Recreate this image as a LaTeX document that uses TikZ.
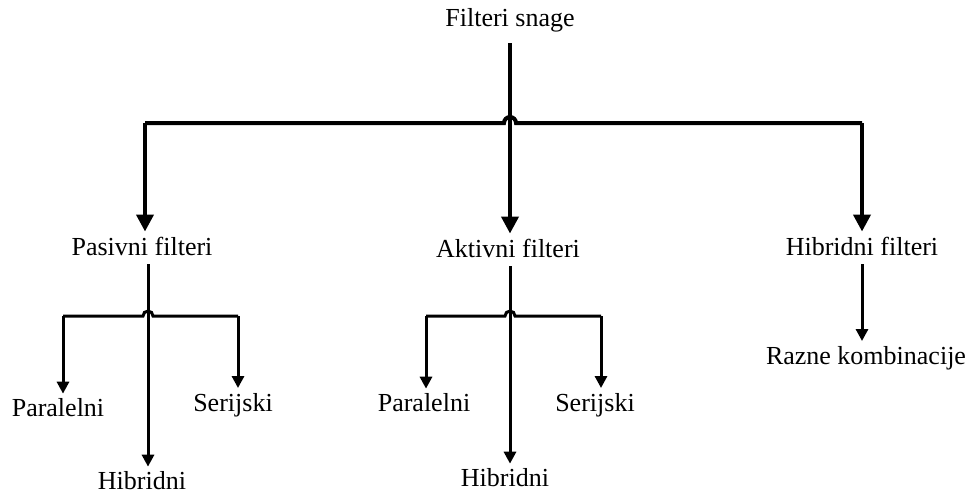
\documentclass[tikz,border=0pt]{standalone}
\usepackage{fontspec}
\setmainfont{Liberation Serif}
\usetikzlibrary{arrows.meta,positioning}

\begin{document}
\begin{tikzpicture}[x=1pt, y=-1pt, font=\fontsize{26}{30}\selectfont,
    every node/.style={inner sep=5pt},
    big/.style={line width=4pt, -{Triangle[length=17pt,width=17pt]}},
    small/.style={line width=3pt, -{Triangle[length=12pt,width=12pt]}},
    bar/.style={line width=4pt},
    thinbar/.style={line width=3pt}]
  \useasboundingbox (0,0) rectangle (968,496);

  % top and first level
  \node (FS) at (510,20) {Filteri snage};
  \node (PF) at (142,246) {Pasivni filteri};
  \node (AF) at (508,248) {Aktivni filteri};
  \node (HF) at (862,246) {Hibridni filteri};

  % second level
  \node (PP) at (58,408) {Paralelni};
  \node (PS) at (233,405) {Serijski};
  \node (PH) at (142,481) {Hibridni};
  \node (AP) at (424,403) {Paralelni};
  \node (AS) at (595,405) {Serijski};
  \node (AH) at (505,478) {Hibridni};
  \node (RK) at (866,358) {Razne kombinacije};

  % bar points
  \coordinate (b1) at (145,123);
  \coordinate (b2) at (510,123);
  \coordinate (b3) at (862,123);
  \coordinate (p1) at (63,316);
  \coordinate (p2) at (148,316);
  \coordinate (p3) at (238,316);
  \coordinate (a1) at (426,316);
  \coordinate (a2) at (510,316);
  \coordinate (a3) at (601,316);

  % from Filteri snage to all kinds
  \draw[bar] (b1) -- ([xshift=-6pt]b2) arc[start angle=180, end angle=0, radius=6pt] -- (b3);
  \draw[big, shorten <=6pt] (FS.south -| b2) -- (AF.north -| b2);
  \draw[big] (b1) -- (PF.north -| b1);
  \draw[big] (b3) -- (HF.north -| b3);

  % passive
  \draw[thinbar] (p1) -- ([xshift=-5pt]p2) arc[start angle=180, end angle=0, radius=5pt] -- (p3);
  \draw[small, shorten <=4pt] (PF.south -| p2) -- (PH.north -| p2);
  \draw[small] (p1) -- (PP.north -| p1);
  \draw[small] (p3) -- (PS.north -| p3);

  % active
  \draw[thinbar] (a1) -- ([xshift=-5pt]a2) arc[start angle=180, end angle=0, radius=5pt] -- (a3);
  \draw[small, shorten <=4pt] (AF.south -| a2) -- (AH.north -| a2);
  \draw[small] (a1) -- (AP.north -| a1);
  \draw[small] (a3) -- (AS.north -| a3);

  % hybrid
  \draw[small, shorten <=4pt] (HF.south -| b3) -- (RK.north -| b3);
\end{tikzpicture}
\end{document}
